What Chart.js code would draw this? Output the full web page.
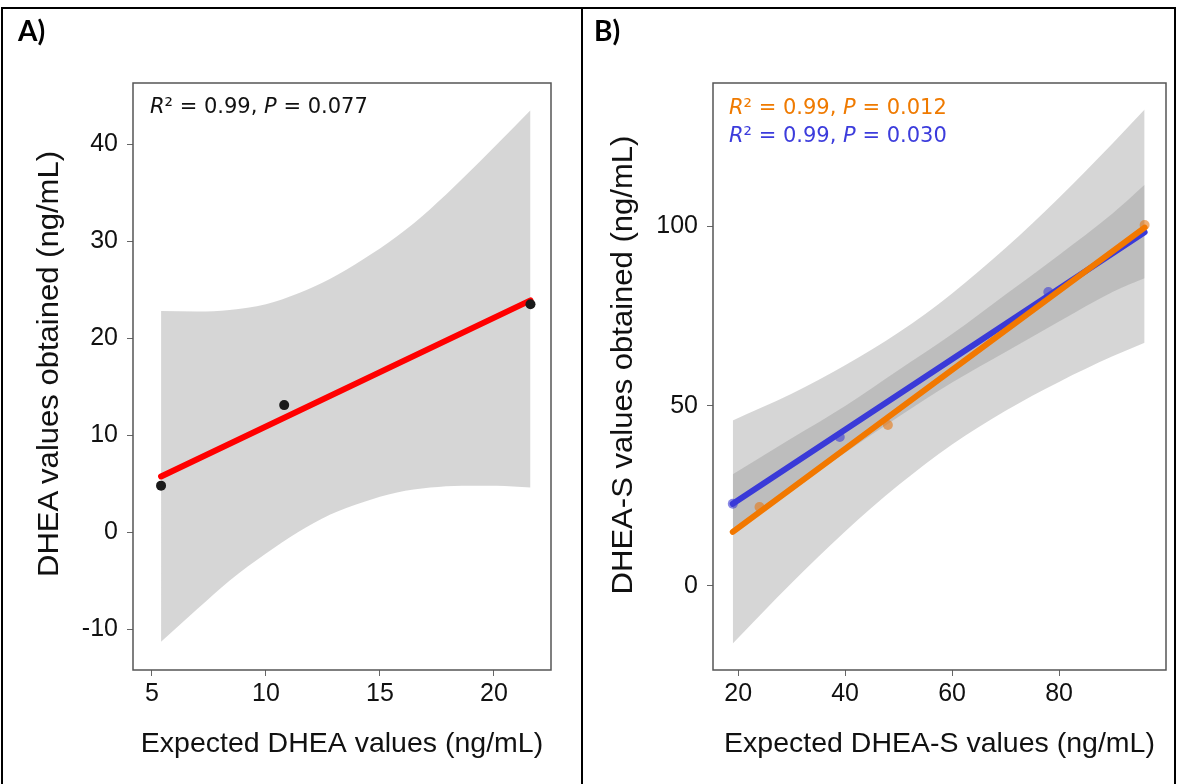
<!DOCTYPE html>
<html>
<head>
<meta charset="utf-8">
<script src="https://cdn.jsdelivr.net/npm/chart.js@4.4.0/dist/chart.umd.min.js"></script>
<style>
body { margin: 0; background: #fff; width: 1177px; height: 784px; overflow: hidden; position: relative; }
.frame { position: absolute; left: 1px; top: 7px; width: 1175px; height: 800px; border: 2px solid #000; box-sizing: border-box; }
.divider { position: absolute; left: 581px; top: 7px; width: 2px; height: 777px; background: #000; }
canvas { position: absolute; top: 0; }
.tag { position: absolute; font-family: Lato, "Open Sans", sans-serif; font-weight: 700; font-size: 28px; line-height: 28px; }
.note { position: absolute; font-family: "DejaVu Sans", sans-serif; font-size: 21px; line-height: 24px; white-space: nowrap; }
.ytitle { position: absolute; width: 600px; height: 34px; margin-left: -300px; margin-top: -17px; text-align: center;
          font-family: "Liberation Sans", Arial, sans-serif; font-size: 29px; line-height: 34px; color: #111;
          transform: rotate(-90deg) scaleX(1.07); white-space: nowrap; }
</style>
</head>
<body>
<div class="frame"></div>
<div class="divider"></div>
<canvas id="chartA" width="583" height="784" style="left:0"></canvas>
<canvas id="chartB" width="594" height="784" style="left:583px"></canvas>
<div class="tag" style="left:18px; top:16px">A)</div>
<div class="tag" style="left:594px; top:16px">B)</div>
<div class="note" style="left:150px; top:94px; color:#111"><i>R</i>² = 0.99, <i>P</i> = 0.077</div>
<div class="note" style="left:729px; top:95px; color:#ef7a00"><i>R</i>² = 0.99, <i>P</i> = 0.012</div>
<div class="note" style="left:729px; top:123px; color:#3c3cdc"><i>R</i>² = 0.99, <i>P</i> = 0.030</div>
<div class="ytitle" style="left:48px; top:364px">DHEA values obtained (ng/mL)</div>
<div class="ytitle" style="left:622px; top:365px">DHEA-S values obtained (ng/mL)</div>
<script>
// Panel A - DHEA
const dheaExpected = [5.4, 10.8, 21.6];
const dheaObtained = [4.8, 13.1, 23.5];
const dheaFitX = [5.4, 21.6];
const dheaFitY = [5.75, 23.9];
const dheaBandX = [5.4, 7, 8.4, 10, 11.4, 12.8, 14.25, 15.75, 17.2, 18.6, 20.1, 21.6];
const dheaBandUpper = [22.8, 22.75, 22.9, 23.5, 24.6, 26.1, 28.1, 30.5, 33.3, 36.4, 39.9, 43.5];
const dheaBandLower = [-11.3, -7.9, -5.0, -2.2, 0.0, 1.8, 3.1, 4.1, 4.6, 4.8, 4.8, 4.6];
const xTicksA = [5, 10, 15, 20];
const yTicksA = [-10, 0, 10, 20, 30, 40];

// Panel B - DHEA-S (orange and blue series)
const orangeExpected = [24, 48, 96];
const orangeObtained = [21.9, 44.7, 100.3];
const orangeFitX = [19, 96];
const orangeFitY = [15.0, 99.6];
const blueExpected = [19, 39, 78];
const blueObtained = [22.8, 41.4, 81.7];
const blueFitX = [19, 96];
const blueFitY = [22.8, 98.3];
const bandXB = [19, 30, 40, 50, 60, 70, 80, 90, 96];
const orangeBandUpper = [46.0, 53.4, 61.3, 70.4, 81.3, 93.9, 107.9, 123.0, 132.4];
const orangeBandLower = [-16.0, 0.8, 15.1, 28.0, 39.3, 48.7, 56.7, 63.8, 67.6];
const blueBandUpper = [31.0, 41.0, 50.0, 60.0, 70.0, 81.0, 92.0, 103.5, 111.5];
const blueBandLower = [15.0, 27.0, 37.0, 47.0, 56.5, 65.0, 73.5, 81.7, 85.5];
const xTicksB = [20, 40, 60, 80];
const yTicksB = [0, 50, 100];

const pts = (xs, ys) => xs.map((x, i) => ({ x: x, y: ys[i] }));
const bandColor = "rgba(153,153,153,0.4)";
const tickFont = { family: "'Liberation Sans', Arial, sans-serif", size: 25 };
const titleFont = { family: "'Liberation Sans', Arial, sans-serif", size: 28.5 };

// grey frame round the plotting area
const boxBorder = {
    id: "boxBorder",
    afterDraw(chart) {
        const { ctx, chartArea: a } = chart;
        ctx.save();
        ctx.strokeStyle = "#555";
        ctx.lineWidth = 1.5;
        ctx.strokeRect(a.left, a.top, a.right - a.left, a.bottom - a.top);
        ctx.restore();
    }
};

function bandSets(xs, upper, lower, order) {
    return [
        { type: "line", data: pts(xs, upper), borderColor: "transparent", borderWidth: 0, pointRadius: 0, fill: "+1", backgroundColor: bandColor, order: order, cubicInterpolationMode: "monotone" },
        { type: "line", data: pts(xs, lower), borderColor: "transparent", borderWidth: 0, pointRadius: 0, fill: false, order: order + 1, cubicInterpolationMode: "monotone" }
    ];
}

function fitSet(xs, ys, color, order) {
    return { type: "line", data: pts(xs, ys), borderColor: color, borderWidth: 6, borderCapStyle: "round", pointRadius: 0, fill: false, order: order };
}

function pointSet(xs, ys, color, order) {
    return { type: "scatter", data: pts(xs, ys), backgroundColor: color, borderWidth: 0, pointRadius: 5, order: order };
}

function makeOptions(cfg) {
    return {
        responsive: false,
        animation: false,
        layout: { padding: { top: 83, right: cfg.padRight, left: 0, bottom: 0 } },
        plugins: { legend: { display: false }, tooltip: { enabled: false } },
        scales: {
            x: {
                type: "linear",
                min: cfg.xMin, max: cfg.xMax,
                afterFit: s => { s.height = 114; },
                afterBuildTicks: s => { s.ticks = cfg.xTicks.map(v => ({ value: v })); },
                grid: { drawOnChartArea: false, tickLength: 6, color: "#666" },
                border: { display: false },
                ticks: { font: tickFont, color: "#111", padding: 3, maxRotation: 0 },
                title: { display: true, text: cfg.xTitle, font: titleFont, color: "#111", padding: { top: 0, bottom: 23 } }
            },
            y: {
                type: "linear",
                min: cfg.yMin, max: cfg.yMax,
                afterFit: s => { s.width = cfg.yWidth; },
                afterBuildTicks: s => { s.ticks = cfg.yTicks.map(v => ({ value: v })); },
                grid: { drawOnChartArea: false, tickLength: 6, color: "#666" },
                border: { display: false },
                ticks: { font: tickFont, color: "#111", padding: 9 }
            }
        }
    };
}

new Chart(document.getElementById("chartA"), {
    type: "scatter",
    data: {
        datasets: [
            pointSet(dheaExpected, dheaObtained, "#1a1a1a", 0),
            fitSet(dheaFitX, dheaFitY, "#ff0000", 1),
            ...bandSets(dheaBandX, dheaBandUpper, dheaBandLower, 2)
        ]
    },
    options: makeOptions({
        padRight: 32, yWidth: 133,
        xMin: 4.17, xMax: 22.5, yMin: -14.2, yMax: 46.3,
        xTicks: xTicksA, yTicks: yTicksA,
        xTitle: "Expected DHEA values (ng/mL)"
    }),
    plugins: [boxBorder]
});

new Chart(document.getElementById("chartB"), {
    type: "scatter",
    data: {
        datasets: [
            fitSet(orangeFitX, orangeFitY, "#f27800", 0),
            fitSet(blueFitX, blueFitY, "#3a3ad8", 1),
            pointSet(orangeExpected, orangeObtained, "rgba(230,120,20,0.6)", 2),
            pointSet(blueExpected, blueObtained, "rgba(60,60,210,0.6)", 2),
            ...bandSets(bandXB, blueBandUpper, blueBandLower, 3),
            ...bandSets(bandXB, orangeBandUpper, orangeBandLower, 5)
        ]
    },
    options: makeOptions({
        padRight: 11, yWidth: 130,
        xMin: 15.3, xMax: 100, yMin: -23.4, yMax: 139.8,
        xTicks: xTicksB, yTicks: yTicksB,
        xTitle: "Expected DHEA-S values (ng/mL)"
    }),
    plugins: [boxBorder]
});
</script>
</body>
</html>
